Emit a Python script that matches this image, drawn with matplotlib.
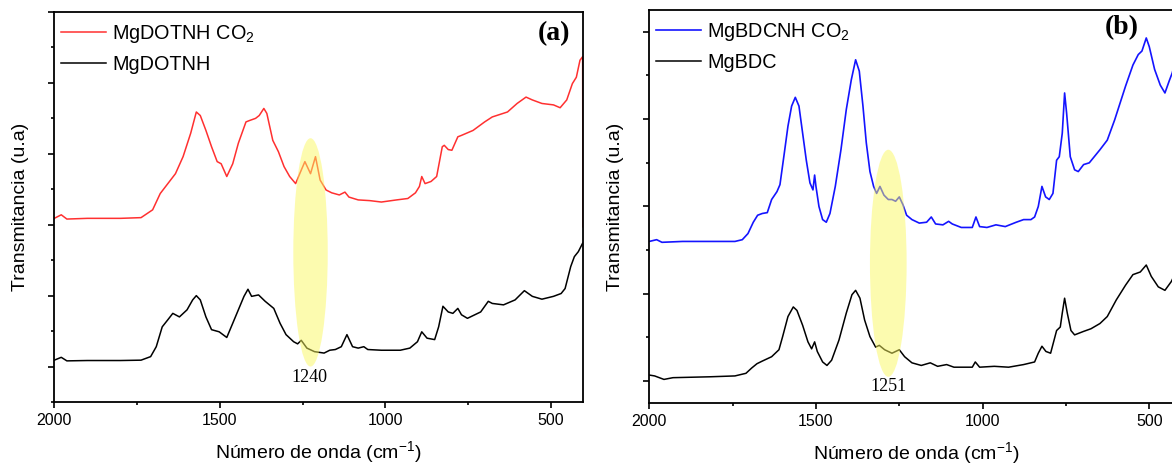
import matplotlib
matplotlib.use("Agg")
import matplotlib.pyplot as plt
from matplotlib.patches import Ellipse
from matplotlib.ticker import MultipleLocator

# ---------------- data (panel a) ----------------
wn_a_red = [2000, 1979, 1962, 1900, 1800, 1738, 1703, 1680, 1657, 1634, 1611, 1588, 1571,
            1559, 1542, 1525, 1508, 1496, 1479, 1461, 1444, 1421, 1410, 1392, 1381, 1367,
            1358, 1340, 1323, 1306, 1289, 1271, 1254, 1243, 1226, 1211, 1197, 1179, 1162,
            1139, 1122, 1110, 1082, 1047, 1012, 966, 932, 909, 897, 890, 880, 862, 845,
            828, 822, 810, 799, 781, 770, 735, 700, 677, 631, 602, 575, 556, 527, 492,
            472, 452, 435, 423, 412, 404, 403]
t_a_red = [20.9, 21.4, 20.8, 20.9, 20.9, 21.0, 22.1, 24.4, 25.8, 27.2, 29.6, 32.9, 35.9,
           35.4, 33.3, 31.0, 28.9, 28.6, 26.8, 28.6, 31.5, 34.5, 34.7, 35.0, 35.4, 36.4,
           35.7, 31.9, 30.3, 28.2, 26.8, 25.8, 27.7, 28.9, 27.2, 29.6, 26.3, 24.9, 24.5,
           24.2, 24.6, 23.9, 23.5, 23.4, 23.2, 23.5, 23.7, 24.5, 25.4, 26.8, 25.8, 26.1,
           26.8, 31.0, 31.2, 30.6, 30.5, 32.4, 32.6, 33.3, 34.5, 35.2, 35.9, 37.1, 38.0,
           37.6, 37.1, 36.9, 36.5, 37.6, 39.9, 40.8, 43.2, 43.7, 19.7]

wn_a_blk = [2000, 1979, 1962, 1900, 1800, 1738, 1709, 1692, 1674, 1657, 1642, 1622, 1599,
            1582, 1571, 1559, 1542, 1525, 1502, 1479, 1461, 1444, 1427, 1415, 1404, 1383,
            1363, 1337, 1318, 1300, 1277, 1265, 1254, 1237, 1214, 1185, 1168, 1151, 1133,
            1116, 1099, 1082, 1065, 1053, 1012, 955, 926, 903, 890, 874, 851, 839, 826,
            810, 796, 781, 770, 752, 712, 689, 677, 643, 608, 580, 556, 527, 492, 469,
            457, 440, 429, 417, 404]
t_a_blk = [0.9, 1.3, 0.8, 0.85, 0.85, 0.9, 1.4, 2.8, 5.6, 6.6, 7.5, 7.0, 8.0,
           9.4, 10.0, 9.4, 7.0, 5.2, 4.9, 4.1, 6.1, 8.0, 9.9, 10.9, 9.9, 10.1,
           9.2, 8.2, 6.1, 4.5, 3.5, 3.2, 3.7, 2.6, 2.1, 1.9, 2.3, 2.4, 2.8,
           4.5, 2.8, 2.6, 2.8, 2.4, 2.3, 2.3, 2.6, 3.5, 4.9, 4.0, 3.8, 5.6, 8.5,
           7.7, 7.5, 8.2, 7.3, 6.8, 7.7, 9.2, 8.9, 8.7, 9.4, 10.7, 9.9, 9.5, 9.9, 10.3,
           11.0, 14.1, 15.5, 16.2, 17.4]

# ---------------- data (panel b) ----------------
wn_b_blue = [2000, 1978, 1962, 1900, 1800, 1743, 1721, 1704, 1688, 1675, 1661, 1646, 1633,
             1617, 1608, 1595, 1584, 1573, 1562, 1551, 1540, 1529, 1518, 1509, 1504, 1500,
             1491, 1480, 1469, 1458, 1442, 1425, 1409, 1394, 1381, 1370, 1359, 1349, 1338,
             1327, 1318, 1308, 1296, 1283, 1272, 1261, 1250, 1239, 1228, 1212, 1190, 1168,
             1154, 1141, 1119, 1102, 1091, 1064, 1031, 1020, 1009, 987, 960, 932, 899, 877,
             855, 844, 833, 822, 811, 800, 789, 778, 770, 761, 754, 748, 737, 724, 713,
             697, 680, 648, 626, 604, 571, 549, 533, 522, 509, 500, 484, 467, 453, 440,
             431, 420]
t_b_blue = [16.0, 16.2, 15.9, 16.0, 16.0, 16.0, 16.2, 16.9, 18.2, 19.0, 19.2, 19.3, 20.8,
            21.7, 22.5, 26.1, 29.2, 31.5, 32.5, 31.5, 28.4, 25.3, 22.7, 21.9, 23.6, 22.3,
            20.0, 18.5, 18.2, 19.2, 22.3, 26.5, 31.1, 34.5, 36.8, 35.5, 31.5, 27.3, 24.0,
            22.3, 21.5, 22.3, 21.3, 20.8, 20.8, 20.6, 21.1, 20.2, 19.0, 18.5, 18.1, 18.2,
            18.8, 18.0, 17.9, 18.3, 18.0, 17.6, 17.6, 18.8, 17.7, 17.6, 17.9, 17.7, 18.2, 18.5,
            18.5, 18.8, 20.0, 22.3, 21.1, 20.8, 21.5, 25.3, 25.7, 28.4, 33.0, 30.7, 25.7, 24.2, 24.0,
            24.8, 25.0, 26.5, 27.6, 29.9, 33.8, 36.2, 37.4, 37.8, 39.3, 38.3, 35.7, 33.9, 33.0, 34.4,
            35.3, 37.0]

wn_b_blk = [2000, 1984, 1956, 1929, 1819, 1743, 1710, 1693, 1677, 1661, 1633, 1611, 1600,
            1584, 1568, 1557, 1540, 1524, 1513, 1504, 1496, 1480, 1467, 1453, 1431, 1409,
            1392, 1381, 1368, 1354, 1338, 1321, 1310, 1294, 1272, 1250, 1234, 1212, 1184,
            1157, 1135, 1108, 1086, 1031, 1022, 1009, 965, 922, 877, 844, 833, 822, 810,
            796, 778, 767, 761, 754, 746, 735, 724, 697, 675, 648, 626, 599, 571, 549,
            527, 509, 494, 473, 453, 434, 420]
t_b_blk = [0.7, 0.6, 0.2, 0.4, 0.5, 0.6, 0.9, 1.5, 2.0, 2.3, 2.8, 3.6, 5.1,
           7.4, 8.5, 8.1, 6.4, 4.5, 3.7, 4.5, 3.4, 2.2, 1.8, 2.4, 4.7, 7.8,
           9.9, 10.4, 9.5, 7.0, 5.1, 3.9, 4.1, 3.6, 3.2, 3.6, 2.8, 2.1, 1.8,
           2.1, 1.7, 1.9, 1.6, 1.6, 2.2, 1.6, 1.7, 1.6, 1.9, 2.2, 3.2, 4.0, 3.4,
           3.2, 5.8, 6.2, 7.8, 9.5, 7.8, 5.8, 5.3, 5.7, 6.0, 6.6, 7.4, 9.3, 11.0, 12.2,
           12.5, 13.3, 12.0, 10.8, 10.4, 11.4, 12.5]

labels_a = ["MgDOTNH CO$_2$", "MgDOTNH"]
labels_b = ["MgBDCNH CO$_2$", "MgBDC"]
xticks = [2000, 1500, 1000, 500]
band_a = 1240
band_b = 1251

# ---------------- style ----------------
plt.rcParams['font.family'] = ['Liberation Sans', 'DejaVu Sans']
plt.rcParams['mathtext.default'] = 'regular'

W, H = 1172, 465
fig = plt.figure(figsize=(W / 100, H / 100), dpi=100)

ax_a = fig.add_axes([54.3 / W, (H - 402) / H, 529 / W, 390 / H])
ax_b = fig.add_axes([649.3 / W, (H - 403) / H, 533.3 / W, 393 / H])


def style(ax, xlim, ylim):
    ax.set_xlim(*xlim)
    ax.set_ylim(*ylim)
    ax.set_xticks(xticks)
    ax.xaxis.set_minor_locator(MultipleLocator(250))
    ax.yaxis.set_major_locator(MultipleLocator(10))
    ax.yaxis.set_minor_locator(MultipleLocator(5))
    ax.set_yticklabels([])
    ax.tick_params(axis='both', which='major', direction='out', length=4.5, width=1.2,
                   labelsize=11.5, top=False, right=False)
    ax.tick_params(axis='both', which='minor', direction='out', length=2.5, width=1.2,
                   top=False, right=False)
    for s in ax.spines.values():
        s.set_linewidth(1.3)
    ax.set_xlabel("Número de onda (cm$^{-1}$)", fontsize=14, labelpad=8)
    ax.set_ylabel("Transmitancia (u.a)", fontsize=14, labelpad=10)


style(ax_a, (2000, 402), (-5, 50))
style(ax_b, (2000, 400), (-2.5, 42.5))

ax_a.plot(wn_a_red, t_a_red, color='#ff3030', lw=1.1, label=labels_a[0])
ax_a.plot(wn_a_blk, t_a_blk, color='black', lw=1.1, label=labels_a[1])
ax_b.plot(wn_b_blue, t_b_blue, color='#1414ff', lw=1.2, label=labels_b[0])
ax_b.plot(wn_b_blk, t_b_blk, color='black', lw=1.1, label=labels_b[1])

ax_a.add_patch(Ellipse((1226, 16.1), 104, 32.2, facecolor='#fbf860', alpha=0.5,
                       edgecolor='none', zorder=4))
ax_b.add_patch(Ellipse((1283, 13.5), 110, 26.0, facecolor='#fbf860', alpha=0.5,
                       edgecolor='none', zorder=4))

ax_a.text(1228, -1.6, str(band_a), family='Liberation Serif', fontsize=13,
          ha='center', va='center')
ax_b.text(1283, -0.65, str(band_b), family='Liberation Serif', fontsize=13,
          ha='center', va='center')

ax_a.text(0.945, 0.945, "(a)", transform=ax_a.transAxes, family='Liberation Serif',
          fontsize=20, fontweight='bold', ha='center', va='center')
ax_b.text((1122 - 649.3) / 533.3, (403 - 28) / 393, "(b)", transform=ax_b.transAxes,
          family='Liberation Serif', fontsize=20, fontweight='bold', ha='center', va='center')

for ax in (ax_a, ax_b):
    ax.legend(loc='upper left', bbox_to_anchor=(0.012, 0.972), frameon=False,
              fontsize=14.3, handlelength=2.3, handletextpad=0.3, labelspacing=0.5,
              borderpad=0.0, borderaxespad=0.0)

fig.savefig("out.png", dpi=100)
